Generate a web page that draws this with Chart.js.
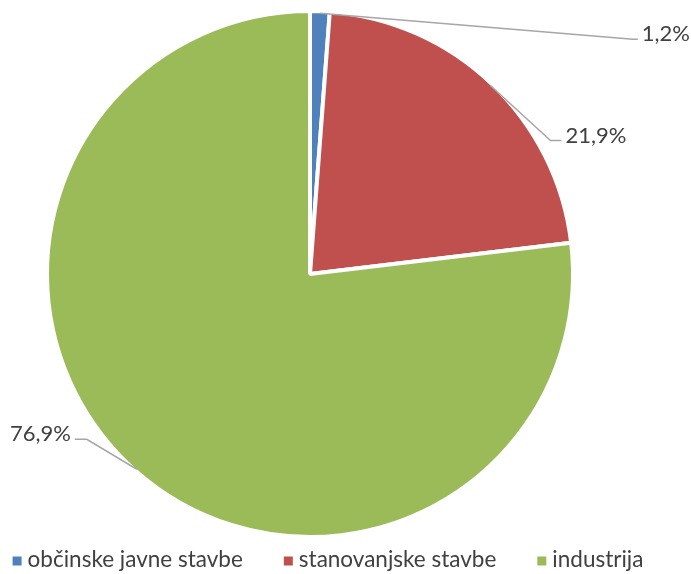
<!DOCTYPE html>
<html>
<head>
<meta charset="utf-8">
<script src="https://cdn.jsdelivr.net/npm/chart.js@4/dist/chart.umd.min.js"></script>
<style>
  html, body { margin: 0; padding: 0; background: #ffffff; }
  #wrap { width: 691px; height: 574px; }
</style>
</head>
<body>
<div id="wrap"><canvas id="pie" width="691" height="574"></canvas></div>
<script>
// Energy use by sector (share in %)
const categories = ['občinske javne stavbe', 'stanovanjske stavbe', 'industrija'];
const shares = [1.2, 21.9, 76.9];
const sliceColors = ['#4F81BD', '#C0504D', '#9BBB59'];

const FONT = 'Lato, "Open Sans", sans-serif';
const TEXT_COLOR = '#404040';

// Elbow of each callout, relative to the point on the rim at the slice's mid-angle
const calloutElbow = [
  { dx: 313, dy: 26, run: 5, side: 'right' },
  { dx: 60, dy: 55, run: 11, side: 'right' },
  { dx: -50, dy: -30, run: 12, side: 'left' }
];

const fmtPct = v => v.toFixed(1).replace('.', ',') + '%';

const calloutPlugin = {
  id: 'callouts',
  afterDatasetsDraw(chart) {
    const ctx = chart.ctx;
    const meta = chart.getDatasetMeta(0);
    ctx.save();
    meta.data.forEach((arc, i) => {
      const p = arc.getProps(['x', 'y', 'startAngle', 'endAngle', 'outerRadius'], true);
      const mid = (p.startAngle + p.endAngle) / 2;
      const r = p.outerRadius - 2;
      const ax = p.x + Math.cos(mid) * r;
      const ay = p.y + Math.sin(mid) * r;
      const c = calloutElbow[i];
      const ex = ax + c.dx, ey = ay + c.dy;
      const dir = c.side === 'right' ? 1 : -1;
      const tx = ex + dir * c.run;
      ctx.strokeStyle = '#A6A6A6';
      ctx.lineWidth = 1.5;
      ctx.beginPath();
      ctx.moveTo(ax, ay);
      ctx.lineTo(ex, ey);
      ctx.lineTo(tx, ey);
      ctx.stroke();
      ctx.fillStyle = TEXT_COLOR;
      ctx.font = '22px ' + FONT;
      ctx.textBaseline = 'middle';
      ctx.textAlign = c.side === 'right' ? 'left' : 'right';
      ctx.fillText(fmtPct(shares[i]), tx + dir * 4, ey - 5);
    });
    ctx.restore();
  }
};

// Legend row along the bottom edge: square marker followed by the category name
const legendPlugin = {
  id: 'bottomLegend',
  afterDraw(chart, args, opts) {
    const ctx = chart.ctx;
    ctx.save();
    ctx.font = opts.fontSize + 'px ' + FONT;
    const widths = categories.map(c => ctx.measureText(c).width);
    const total = widths.reduce((a, w) => a + opts.box + opts.gap + w, 0) + opts.spacing * (categories.length - 1);
    let x = opts.centerX - total / 2;
    const y = chart.height - opts.bottom;
    ctx.textBaseline = 'middle';
    ctx.textAlign = 'left';
    categories.forEach((c, i) => {
      ctx.fillStyle = sliceColors[i];
      ctx.fillRect(x, y - opts.box / 2, opts.box, opts.box);
      x += opts.box + opts.gap;
      ctx.fillStyle = TEXT_COLOR;
      ctx.fillText(c, x, y - 1);
      x += widths[i] + opts.spacing;
    });
    ctx.restore();
  }
};

new Chart(document.getElementById('pie'), {
  type: 'pie',
  data: {
    labels: categories,
    datasets: [{
      data: shares,
      backgroundColor: sliceColors,
      borderColor: '#ffffff',
      borderWidth: 4
    }]
  },
  options: {
    responsive: false,
    animation: false,
    radius: 263,
    layout: { padding: { left: 0, right: 71, top: 0, bottom: 26 } },
    plugins: {
      tooltip: { enabled: false },
      legend: { display: false },
      bottomLegend: { fontSize: 22.5, box: 9, gap: 6, spacing: 41, centerX: 328, bottom: 13 }
    }
  },
  plugins: [calloutPlugin, legendPlugin]
});
</script>
</body>
</html>
